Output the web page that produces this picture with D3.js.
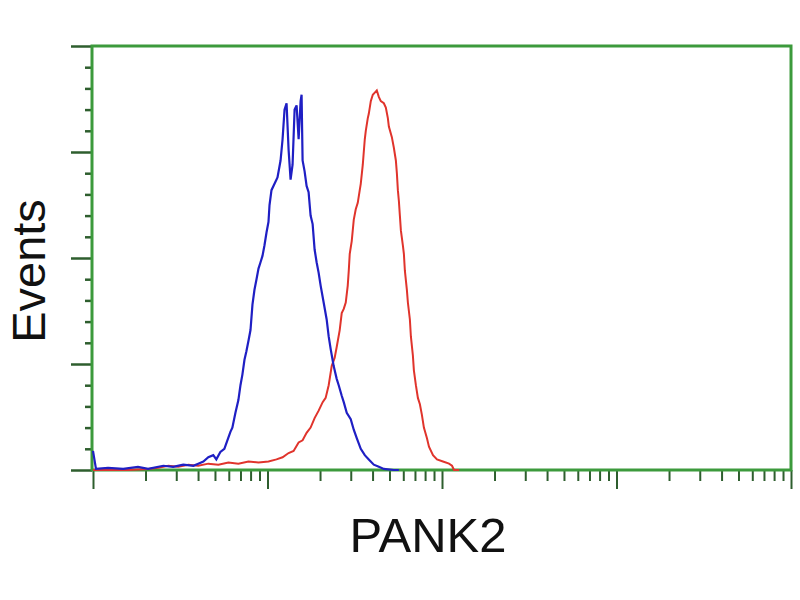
<!DOCTYPE html>
<html>
<head>
<meta charset="utf-8">
<script src="https://cdn.jsdelivr.net/npm/d3@7"></script>
<style>
  body { margin: 0; background: #fff; }
  svg { display: block; }
</style>
</head>
<body>
<div id="chart"></div>
<script>
// intensity (log axis) and event counts
const blueFL = [1.0, 1.04, 1.22, 1.49, 1.81, 2.07, 2.53, 2.88, 3.29, 3.76, 4.01, 4.29, 4.58, 4.89, 5.09, 5.37, 5.66, 5.89, 6.13, 6.29,
  6.55, 6.81, 7.0, 7.18, 7.38, 7.57, 7.78, 7.99, 8.2, 8.42, 8.65, 8.88, 9.12, 9.36, 9.61, 9.87, 10.13, 10.27, 10.54, 10.97,
  11.41, 11.88, 12.2, 12.52, 12.86, 13.21, 13.56, 13.92, 14.3, 14.68, 15.08, 15.48, 15.68, 15.89, 16.31, 16.75, 17.2, 17.66, 18.14, 18.62,
  19.12, 19.64, 20.16, 20.98, 21.83, 22.42, 23.02, 23.95, 24.92, 25.59, 26.63, 27.35, 28.45, 29.99, 31.21, 32.47, 34.23, 36.1, 38.06, 40.66,
  43.44, 46.42, 52.98, 56.6];
const blueCount = [9, 0.5, 1, 0.5, 1.5, 0.5, 2, 1.5, 2.5, 2, 3, 4, 6, 7, 5, 8.5, 10, 14, 18, 20,
  27, 33, 40, 45, 52, 56, 61, 66, 78, 85, 90, 95, 98, 101, 106, 112, 117, 125, 132, 135,
  138, 146, 156, 170, 173, 151, 137, 144, 170, 172, 156, 174, 177, 146, 141, 134, 131, 120, 116, 104,
  98, 93, 87, 79, 71, 63, 57, 49, 43, 40, 35, 32, 27, 24, 19, 15, 10, 7, 5, 2.5,
  1.5, 0.5, 0, 0];

const redFL = [1.0, 1.59, 2.07, 2.36, 2.7, 3.08, 3.52, 4.01, 4.58, 5.23, 5.97, 6.81, 7.78, 8.88, 10.13, 11.26, 12.2, 13.21, 14.11, 15.08,
  15.89, 16.75, 17.66, 18.62, 19.64, 20.71, 21.54, 22.42, 23.33, 24.27, 24.92, 25.93, 26.63, 27.35, 28.08, 28.83, 29.22, 29.6, 30.39, 31.21,
  32.04, 32.9, 33.78, 34.23, 35.16, 35.62, 36.1, 36.58, 37.56, 38.06, 39.08, 40.12, 41.19, 42.3, 43.44, 44.6, 46.42, 47.66, 48.94, 49.6,
  51.6, 52.98, 54.4, 55.13, 55.86, 56.6, 57.36, 58.12, 59.67, 60.47, 61.27, 62.91, 63.75, 65.45, 66.33, 68.1, 69.01, 70.85, 72.75, 74.7,
  76.7, 78.75, 82.0, 84.2, 88.8, 93.6, 101.3, 109.7, 114.1, 117.2, 125.3];
const redCount = [0, 0, 0.5, 1, 2, 1.5, 2.5, 2, 3, 2.5, 3.5, 3, 4, 3.5, 4, 5, 6, 8, 9, 13,
  14, 17.5, 20, 24.5, 28, 32, 34, 40, 49, 53, 58, 66, 74, 76, 79, 87, 94, 102, 108, 118,
  123, 126, 132, 135, 144, 150, 156, 160, 166, 168, 174, 177, 178, 179, 176, 174, 173, 171, 166, 162,
  157, 152, 146, 140, 132, 127, 120, 113, 106, 102, 94, 85, 79, 71, 63, 54, 47, 40, 34, 31,
  26, 20, 15, 11, 7, 5, 4, 3, 2, 0, 0];

const yMajor = [0, 50, 100, 150, 200];
const xMajor = [1, 10, 100, 1000, 10000];

const W = 800, H = 600;
const plotLeft = 92, plotRight = 791, plotTop = 46, plotBottom = 470;
const frameColor = "#3c9a3c";
const tickColor = "#2e5e2e";

const svg = d3.select("#chart").append("svg")
  .attr("width", W)
  .attr("height", H);

const x = d3.scaleLog().domain([1, 10000]).range([93, plotRight]);
const y = d3.scaleLinear().domain([0, 200]).range([plotBottom, plotTop]);

// minor tick values
const xMinor = [];
[1, 10, 100, 1000].forEach(d => {
  for (let k = 2; k <= 9; k++) xMinor.push(d * k);
});
const yMinor = d3.range(0, 201, 10).filter(v => v % 50 !== 0);

// x ticks (pointing down)
svg.append("g")
  .attr("transform", `translate(0,${plotBottom})`)
  .call(d3.axisBottom(x).tickValues(xMinor).tickSize(11).tickFormat(""))
  .call(g => g.select(".domain").remove())
  .call(g => g.selectAll("line").attr("stroke", tickColor).attr("stroke-width", 2));

svg.append("g")
  .attr("transform", `translate(0,${plotBottom})`)
  .call(d3.axisBottom(x).tickValues(xMajor).tickSize(19).tickFormat(""))
  .call(g => g.select(".domain").remove())
  .call(g => g.selectAll("line").attr("stroke", tickColor).attr("stroke-width", 2));

// y ticks (pointing left)
svg.append("g")
  .attr("transform", `translate(${plotLeft},0)`)
  .call(d3.axisLeft(y).tickValues(yMinor).tickSize(7).tickFormat(""))
  .call(g => g.select(".domain").remove())
  .call(g => g.selectAll("line").attr("stroke", tickColor).attr("stroke-width", 2.5));

svg.append("g")
  .attr("transform", `translate(${plotLeft},0)`)
  .call(d3.axisLeft(y).tickValues(yMajor).tickSize(21).tickFormat(""))
  .call(g => g.select(".domain").remove())
  .call(g => g.selectAll("line").attr("stroke", tickColor).attr("stroke-width", 2.5));

// frame
svg.append("rect")
  .attr("x", plotLeft)
  .attr("y", plotTop)
  .attr("width", plotRight - plotLeft)
  .attr("height", plotBottom - plotTop)
  .attr("fill", "none")
  .attr("stroke", frameColor)
  .attr("stroke-width", 3);

// histograms
const line = d3.line()
  .x(d => x(d[0]))
  .y(d => y(d[1]));

const blue = blueFL.map((v, i) => [v, blueCount[i]]);
const red = redFL.map((v, i) => [v, redCount[i]]);

svg.append("path")
  .datum(red)
  .attr("d", line)
  .attr("fill", "none")
  .attr("stroke", "#e0342c")
  .attr("stroke-width", 2);

svg.append("path")
  .datum(blue)
  .attr("d", line)
  .attr("fill", "none")
  .attr("stroke", "#1f1fc4")
  .attr("stroke-width", 2.2);

// labels
svg.append("text")
  .attr("transform", `translate(45,271) rotate(-90)`)
  .attr("text-anchor", "middle")
  .attr("font-family", "Liberation Sans, Arial, sans-serif")
  .attr("font-size", 47)
  .attr("fill", "#111")
  .text("Events");

svg.append("text")
  .attr("x", 428)
  .attr("y", 552)
  .attr("text-anchor", "middle")
  .attr("font-family", "Liberation Sans, Arial, sans-serif")
  .attr("font-size", 49)
  .attr("fill", "#111")
  .text("PANK2");
</script>
</body>
</html>
